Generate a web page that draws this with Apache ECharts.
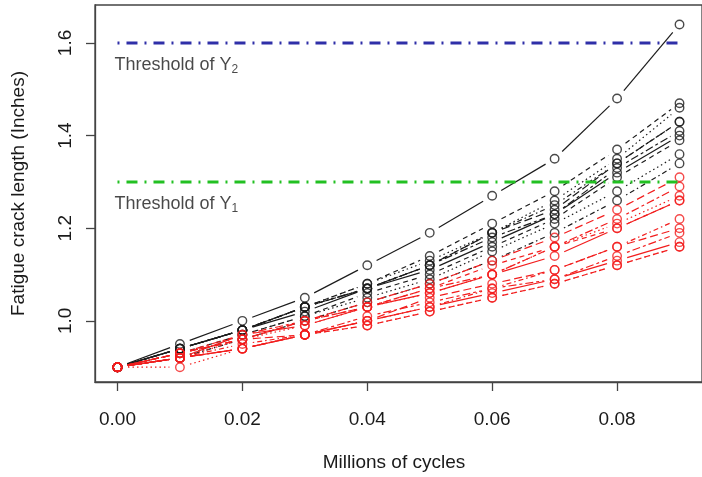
<!DOCTYPE html>
<html><head><meta charset="utf-8">
<script src="https://cdn.jsdelivr.net/npm/echarts@6/dist/echarts.min.js"></script>
<style>html,body{margin:0;padding:0;background:#fff}#c{width:702px;height:477px}</style>
</head><body><div id="c"></div>
<script>
// Millions of cycles (x positions of the measurements)
const cycles = [0.00, 0.01, 0.02, 0.03, 0.04, 0.05, 0.06, 0.07, 0.08, 0.09];
// Paths that exceed threshold (drawn black)
const pathsBlack = [
  [0.90, 0.95, 1.00, 1.05, 1.12, 1.19, 1.27, 1.35, 1.48, 1.64],
  [0.90, 0.94, 0.98, 1.03, 1.08, 1.14, 1.21, 1.28, 1.37, 1.47],
  [0.90, 0.94, 0.98, 1.03, 1.08, 1.13, 1.19, 1.26, 1.35, 1.46],
  [0.90, 0.94, 0.98, 1.03, 1.07, 1.12, 1.19, 1.25, 1.34, 1.43],
  [0.90, 0.94, 0.98, 1.03, 1.07, 1.12, 1.19, 1.24, 1.34, 1.43],
  [0.90, 0.94, 0.98, 1.03, 1.07, 1.12, 1.18, 1.23, 1.33, 1.41],
  [0.90, 0.94, 0.98, 1.02, 1.07, 1.11, 1.17, 1.23, 1.32, 1.40],
  [0.90, 0.93, 0.97, 1.01, 1.06, 1.10, 1.16, 1.22, 1.31, 1.39],
  [0.90, 0.92, 0.97, 1.01, 1.05, 1.09, 1.15, 1.21, 1.28, 1.36],
  [0.90, 0.92, 0.96, 1.00, 1.04, 1.08, 1.13, 1.19, 1.26, 1.34]
];
// Paths below threshold (drawn red)
const pathsRed = [
  [0.90, 0.93, 0.96, 1.00, 1.04, 1.08, 1.13, 1.18, 1.24, 1.31],
  [0.90, 0.93, 0.97, 1.00, 1.03, 1.07, 1.10, 1.16, 1.22, 1.29],
  [0.90, 0.92, 0.97, 0.99, 1.03, 1.06, 1.10, 1.14, 1.20, 1.26],
  [0.90, 0.93, 0.96, 1.00, 1.03, 1.07, 1.12, 1.16, 1.20, 1.26],
  [0.90, 0.92, 0.96, 0.99, 1.03, 1.06, 1.10, 1.16, 1.21, 1.27],
  [0.90, 0.92, 0.95, 0.97, 1.00, 1.03, 1.07, 1.11, 1.16, 1.22],
  [0.90, 0.93, 0.96, 0.97, 1.00, 1.05, 1.08, 1.11, 1.16, 1.20],
  [0.90, 0.92, 0.94, 0.97, 1.01, 1.04, 1.07, 1.09, 1.14, 1.19],
  [0.90, 0.92, 0.94, 0.97, 1.00, 1.03, 1.06, 1.09, 1.13, 1.17],
  [0.90, 0.92, 0.94, 0.97, 0.99, 1.02, 1.05, 1.08, 1.12, 1.16],
  [0.90, 0.90, 0.94, 0.97, 0.99, 1.02, 1.05, 1.08, 1.12, 1.16]
];
const xTicks = [0.00, 0.02, 0.04, 0.06, 0.08];
const yTicks = [1.0, 1.2, 1.4, 1.6];
const thresholdY1 = 1.3;
const thresholdY2 = 1.6;
const thresholdSpan = [0.00, 0.09];
const labelY2 = { x: 0.0, y: 1.553, name: 'Threshold of Y', sub: '2' };
const labelY1 = { x: 0.0, y: 1.253, name: 'Threshold of Y', sub: '1' };

// R lty patterns: solid, dashed, dotted, dotdash, longdash, twodash
const ltyDash = [null, [5, 4], [1.5, 3], [1.5, 3, 5, 3], [8, 4], [3, 3, 8, 3]];
const BLACK = '#1c1c1c', RED = '#f21d1d';
const GAP = 10.5;
const FONT = '"Liberation Sans", Arial, Helvetica, sans-serif';

function segRender(color, dash) {
  return function (params, api) {
    const p0 = api.coord([api.value(0), api.value(1)]);
    const p1 = api.coord([api.value(2), api.value(3)]);
    const dx = p1[0] - p0[0], dy = p1[1] - p0[1];
    const L = Math.hypot(dx, dy);
    if (L <= 2 * GAP + 1) return null;
    const ux = dx / L, uy = dy / L;
    return {
      type: 'line', silent: true,
      shape: { x1: p0[0] + ux * GAP, y1: p0[1] + uy * GAP, x2: p1[0] - ux * GAP, y2: p1[1] - uy * GAP },
      style: { stroke: color, lineWidth: 1.2, lineDash: dash || null, fill: null }
    };
  };
}

const series = [];
const allPaths = pathsBlack.map(p => ({ p, c: BLACK })).concat(pathsRed.map(p => ({ p, c: RED })));
allPaths.forEach((o, i) => {
  const segs = [];
  for (let k = 0; k < cycles.length - 1; k++) segs.push([cycles[k], o.p[k], cycles[k + 1], o.p[k + 1]]);
  series.push({
    type: 'custom', data: segs, encode: { x: [0, 2], y: [1, 3] },
    renderItem: segRender(o.c, ltyDash[i % 6]), silent: true, z: 2
  });
});
[[pathsBlack, BLACK], [pathsRed, RED]].forEach(([ps, c]) => {
  const pts = [];
  ps.forEach(p => p.forEach((v, k) => pts.push([cycles[k], v])));
  series.push({
    type: 'scatter', data: pts, symbol: 'circle', symbolSize: 8.5, silent: true, z: 3,
    itemStyle: { color: 'rgba(0,0,0,0)', borderColor: c, borderWidth: 1.4 }
  });
});
series.push({
  type: 'line', data: thresholdSpan.map(x => [x, thresholdY2]), symbol: 'none', silent: true, z: 4,
  lineStyle: { color: '#2f2fa8', width: 3, type: [2, 7, 11, 7] }
});
series.push({
  type: 'line', data: thresholdSpan.map(x => [x, thresholdY1]), symbol: 'none', silent: true, z: 4,
  lineStyle: { color: '#22c022', width: 3, type: [2, 7, 11, 7] }
});
[labelY2, labelY1].forEach(l => {
  series.push({
    type: 'scatter', data: [[l.x, l.y]], symbolSize: 0, silent: true, z: 5,
    label: {
      show: true, position: 'right', distance: -3,
      formatter: '{a|' + l.name + '}{s|' + l.sub + '}',
      rich: {
        a: { fontSize: 18, fontFamily: FONT, color: '#1a1a1a' },
        s: { fontSize: 12, fontFamily: FONT, color: '#1a1a1a', padding: [10, 0, 0, 0] }
      }
    }
  });
});

const chart = echarts.init(document.getElementById('c'), null, { renderer: 'canvas' });
chart.setOption({
  animation: false,
  backgroundColor: '#fff',
  grid: { left: 95, top: 5, height: 377, right: -7, show: true, borderColor: '#444', borderWidth: 1.3, backgroundColor: 'transparent' },
  xAxis: {
    type: 'value', min: -0.0036, max: 0.0936,
    name: 'Millions of cycles', nameLocation: 'middle', nameGap: 71,
    nameTextStyle: { fontSize: 19, fontFamily: FONT, color: '#1a1a1a', padding: [0, 9, 0, 0] },
    axisLine: { show: true, onZero: false, lineStyle: { color: '#444', width: 1.3 } },
    axisTick: { show: true, customValues: xTicks, length: 9, lineStyle: { color: '#444', width: 1.3 } },
    axisLabel: { customValues: xTicks, formatter: v => v.toFixed(2), fontSize: 19, fontFamily: FONT, color: '#1a1a1a', margin: 28 },
    splitLine: { show: false }
  },
  yAxis: {
    type: 'value', min: 0.868, max: 1.682,
    name: 'Fatigue crack length (Inches)', nameLocation: 'middle', nameGap: 67,
    nameTextStyle: { fontSize: 19, fontFamily: FONT, color: '#1a1a1a' },
    axisLine: { show: true, onZero: false, lineStyle: { color: '#444', width: 1.3 } },
    axisTick: { show: true, customValues: yTicks, length: 9, lineStyle: { color: '#444', width: 1.3 } },
    axisLabel: { customValues: yTicks, formatter: v => v.toFixed(1), rotate: 90, fontSize: 19, fontFamily: FONT, color: '#1a1a1a', margin: 20 },
    splitLine: { show: false }
  },
  series: series
});
</script>
</body></html>
